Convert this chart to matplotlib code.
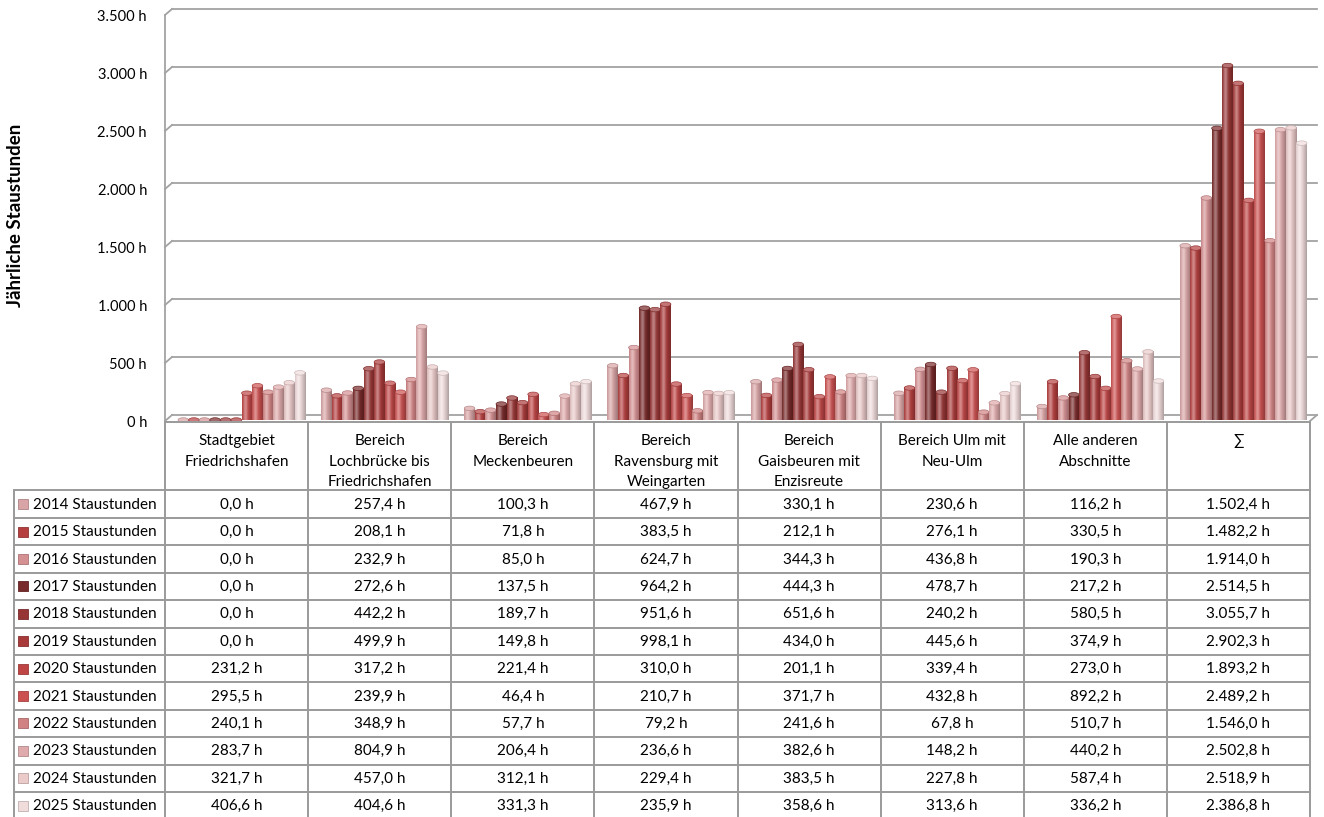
import numpy as np
import matplotlib
matplotlib.use("Agg")
import matplotlib.pyplot as plt
from matplotlib.colors import to_rgb
from matplotlib.patches import Ellipse, Rectangle
from matplotlib.transforms import offset_copy

plt.rcParams['font.family'] = ['Lato', 'DejaVu Sans']

# data
categories = ["Stadtgebiet\nFriedrichshafen", "Bereich\nLochbrücke bis\nFriedrichshafen",
              "Bereich\nMeckenbeuren", "Bereich\nRavensburg mit\nWeingarten",
              "Bereich\nGaisbeuren mit\nEnzisreute", "Bereich Ulm mit\nNeu-Ulm",
              "Alle anderen\nAbschnitte", "∑"]
years = [2014, 2015, 2016, 2017, 2018, 2019, 2020, 2021, 2022, 2023, 2024, 2025]

h2014 = [0.0, 257.4, 100.3, 467.9, 330.1, 230.6, 116.2, 1502.4]
h2015 = [0.0, 208.1, 71.8, 383.5, 212.1, 276.1, 330.5, 1482.2]
h2016 = [0.0, 232.9, 85.0, 624.7, 344.3, 436.8, 190.3, 1914.0]
h2017 = [0.0, 272.6, 137.5, 964.2, 444.3, 478.7, 217.2, 2514.5]
h2018 = [0.0, 442.2, 189.7, 951.6, 651.6, 240.2, 580.5, 3055.7]
h2019 = [0.0, 499.9, 149.8, 998.1, 434.0, 445.6, 374.9, 2902.3]
h2020 = [231.2, 317.2, 221.4, 310.0, 201.1, 339.4, 273.0, 1893.2]
h2021 = [295.5, 239.9, 46.4, 210.7, 371.7, 432.8, 892.2, 2489.2]
h2022 = [240.1, 348.9, 57.7, 79.2, 241.6, 67.8, 510.7, 1546.0]
h2023 = [283.7, 804.9, 206.4, 236.6, 382.6, 148.2, 440.2, 2502.8]
h2024 = [321.7, 457.0, 312.1, 229.4, 383.5, 227.8, 587.4, 2518.9]
h2025 = [406.6, 404.6, 331.3, 235.9, 358.6, 313.6, 336.2, 2386.8]
rows = [h2014, h2015, h2016, h2017, h2018, h2019, h2020, h2021, h2022, h2023, h2024, h2025]

colors = ["#d9a4a5", "#b53f3f", "#d59092", "#782929", "#973535", "#a93a3a",
          "#bf4545", "#cc5151", "#d18383", "#dfaaab", "#ebcaca", "#f1dcdc"]

yticks = [0, 500, 1000, 1500, 2000, 2500, 3000, 3500]


def fmt(v, dec=1):
    s = f"{v:,.{dec}f}".replace(",", "X").replace(".", ",").replace("X", ".")
    return s + " h"


# layout in pixels
W, H = 1324, 817
AX_L, AX_R, AX_T, AX_B = 165, 1310, 15, 421
TB_L, TB_T, HDR_B, ROW_H = 14, 422, 490.5, 27.4
DX, DY = 7, 6  # back wall offset
GRID = "#a3a3a3"
FS = 11

fig = plt.figure(figsize=(W / 100, H / 100), dpi=100)
ax = fig.add_axes([AX_L / W, 1 - AX_B / H, (AX_R - AX_L) / W, (AX_B - AX_T) / H])
ax.set_xlim(-0.5, len(categories) - 0.5)
ax.set_ylim(0, 3500)
px_x = (len(categories)) / (AX_R - AX_L)
px_y = 3500 / (AX_B - AX_T)

back = offset_copy(ax.transData, fig=fig, x=DX, y=DY, units='dots')
bar_tr = offset_copy(ax.transData, fig=fig, x=5, y=1, units='dots')

# back wall grid lines + diagonal to front axis
for v in yticks:
    ax.plot([-0.5, len(categories) - 0.5], [v, v], color=GRID, lw=1.3,
            transform=back, clip_on=False, zorder=1)
    ax.plot([-0.5, -0.5 + DX * px_x], [v, v + DY * px_y], color=GRID, lw=1.3,
            clip_on=False, zorder=1)
# floor right edge
ax.plot([len(categories) - 0.5, len(categories) - 0.5 + DX * px_x], [0, DY * px_y],
        color=GRID, lw=1.3, clip_on=False, zorder=1)

# cylinder bars
t = np.linspace(0, 1, 40)
light = 0.38 * np.exp(-((t - 0.32) / 0.2) ** 2)
dark = 0.28 * (np.abs(t - 0.32) / 0.68) ** 1.6
group_w = 0.888
bw = group_w / len(years)
for j, (vals, c) in enumerate(zip(rows, colors)):
    base = np.array(to_rgb(c))
    grad = base[None, :] * (1 - dark[:, None]) + (1 - base[None, :]) * light[:, None]
    grad = np.clip(grad, 0, 1)[None, :, :]
    cap = np.clip(base + (1 - base) * 0.3, 0, 1)
    for i, v in enumerate(vals):
        xc = i + (j - (len(years) - 1) / 2) * bw
        ax.imshow(grad, extent=[xc - bw / 2, xc + bw / 2, 0, v], transform=bar_tr,
                  aspect='auto', interpolation='bilinear', zorder=3 + j * 0.01)
        ax.add_patch(Ellipse((xc, v), bw, 4.5 * px_y, facecolor=cap,
                             edgecolor=base * 0.85, lw=0.5, transform=bar_tr,
                             zorder=3.005 + j * 0.01))

ax.set_xlim(-0.5, len(categories) - 0.5)
ax.set_ylim(0, 3500)
ax.set_xticks([])
ax.set_yticks(yticks, [fmt(v, 0) for v in yticks])
ax.tick_params(axis='y', length=0, pad=13, labelsize=FS - 0.5)
for s in ['top', 'right', 'bottom']:
    ax.spines[s].set_visible(False)
ax.spines['left'].set_color(GRID)
ax.spines['left'].set_linewidth(1.3)
ax.patch.set_alpha(0)
lab_shift = offset_copy(ax.transAxes, fig=fig, x=0, y=-4, units='dots') - ax.transAxes
for lab in ax.get_yticklabels():
    lab.set_transform(lab.get_transform() + lab_shift)

fig.text(16 / W, 1 - 215 / H, "Jährliche Staustunden", rotation=90, fontsize=13.5,
         fontweight='bold', ha='center', va='center')

# data table
tb = fig.add_axes([TB_L / W, 0, (AX_R + 1 - TB_L) / W, (H - TB_T) / H])
x_left = -0.5 - (AX_L - TB_L) * px_x
x_right = len(categories) - 0.5 + 1 * px_x
hdr_top = -(HDR_B - TB_T) / ROW_H
tb.set_xlim(x_left, x_right)
tb.set_ylim((H - HDR_B) / ROW_H, hdr_top)
tb.axis('off')

TL = "#9a9a9a"
n = len(years)
tb.plot([-0.5, len(categories) - 0.5], [hdr_top, hdr_top], color=TL, lw=1.4, clip_on=False)
for r in range(n + 1):
    tb.plot([x_left, len(categories) - 0.5], [r, r], color=TL, lw=1.4, clip_on=False)
for k in range(len(categories) + 1):
    tb.plot([k - 0.5, k - 0.5], [hdr_top, n], color=TL, lw=1.4, clip_on=False)
tb.plot([x_left, x_left], [0, n], color=TL, lw=1.4, clip_on=False)

for i, name in enumerate(categories):
    tb.text(i, hdr_top + 12 / ROW_H, name, ha='center', va='top', fontsize=FS,
            linespacing=1.6)

for r, (yr, vals, c) in enumerate(zip(years, rows, colors)):
    tb.add_patch(Rectangle((x_left + 4 * px_x, r + 0.5 - 5 / ROW_H), 10 * px_x, 10 / ROW_H,
                           facecolor=c, edgecolor=np.array(to_rgb(c)) * 0.8, lw=0.6,
                           clip_on=False))
    tb.text(x_left + 19 * px_x, r + 0.52, f"{yr} Staustunden", ha='left', va='center',
            fontsize=FS)
    for i, v in enumerate(vals):
        tb.text(i, r + 0.52, fmt(v), ha='center', va='center', fontsize=FS)

fig.savefig("out.png", dpi=100)
